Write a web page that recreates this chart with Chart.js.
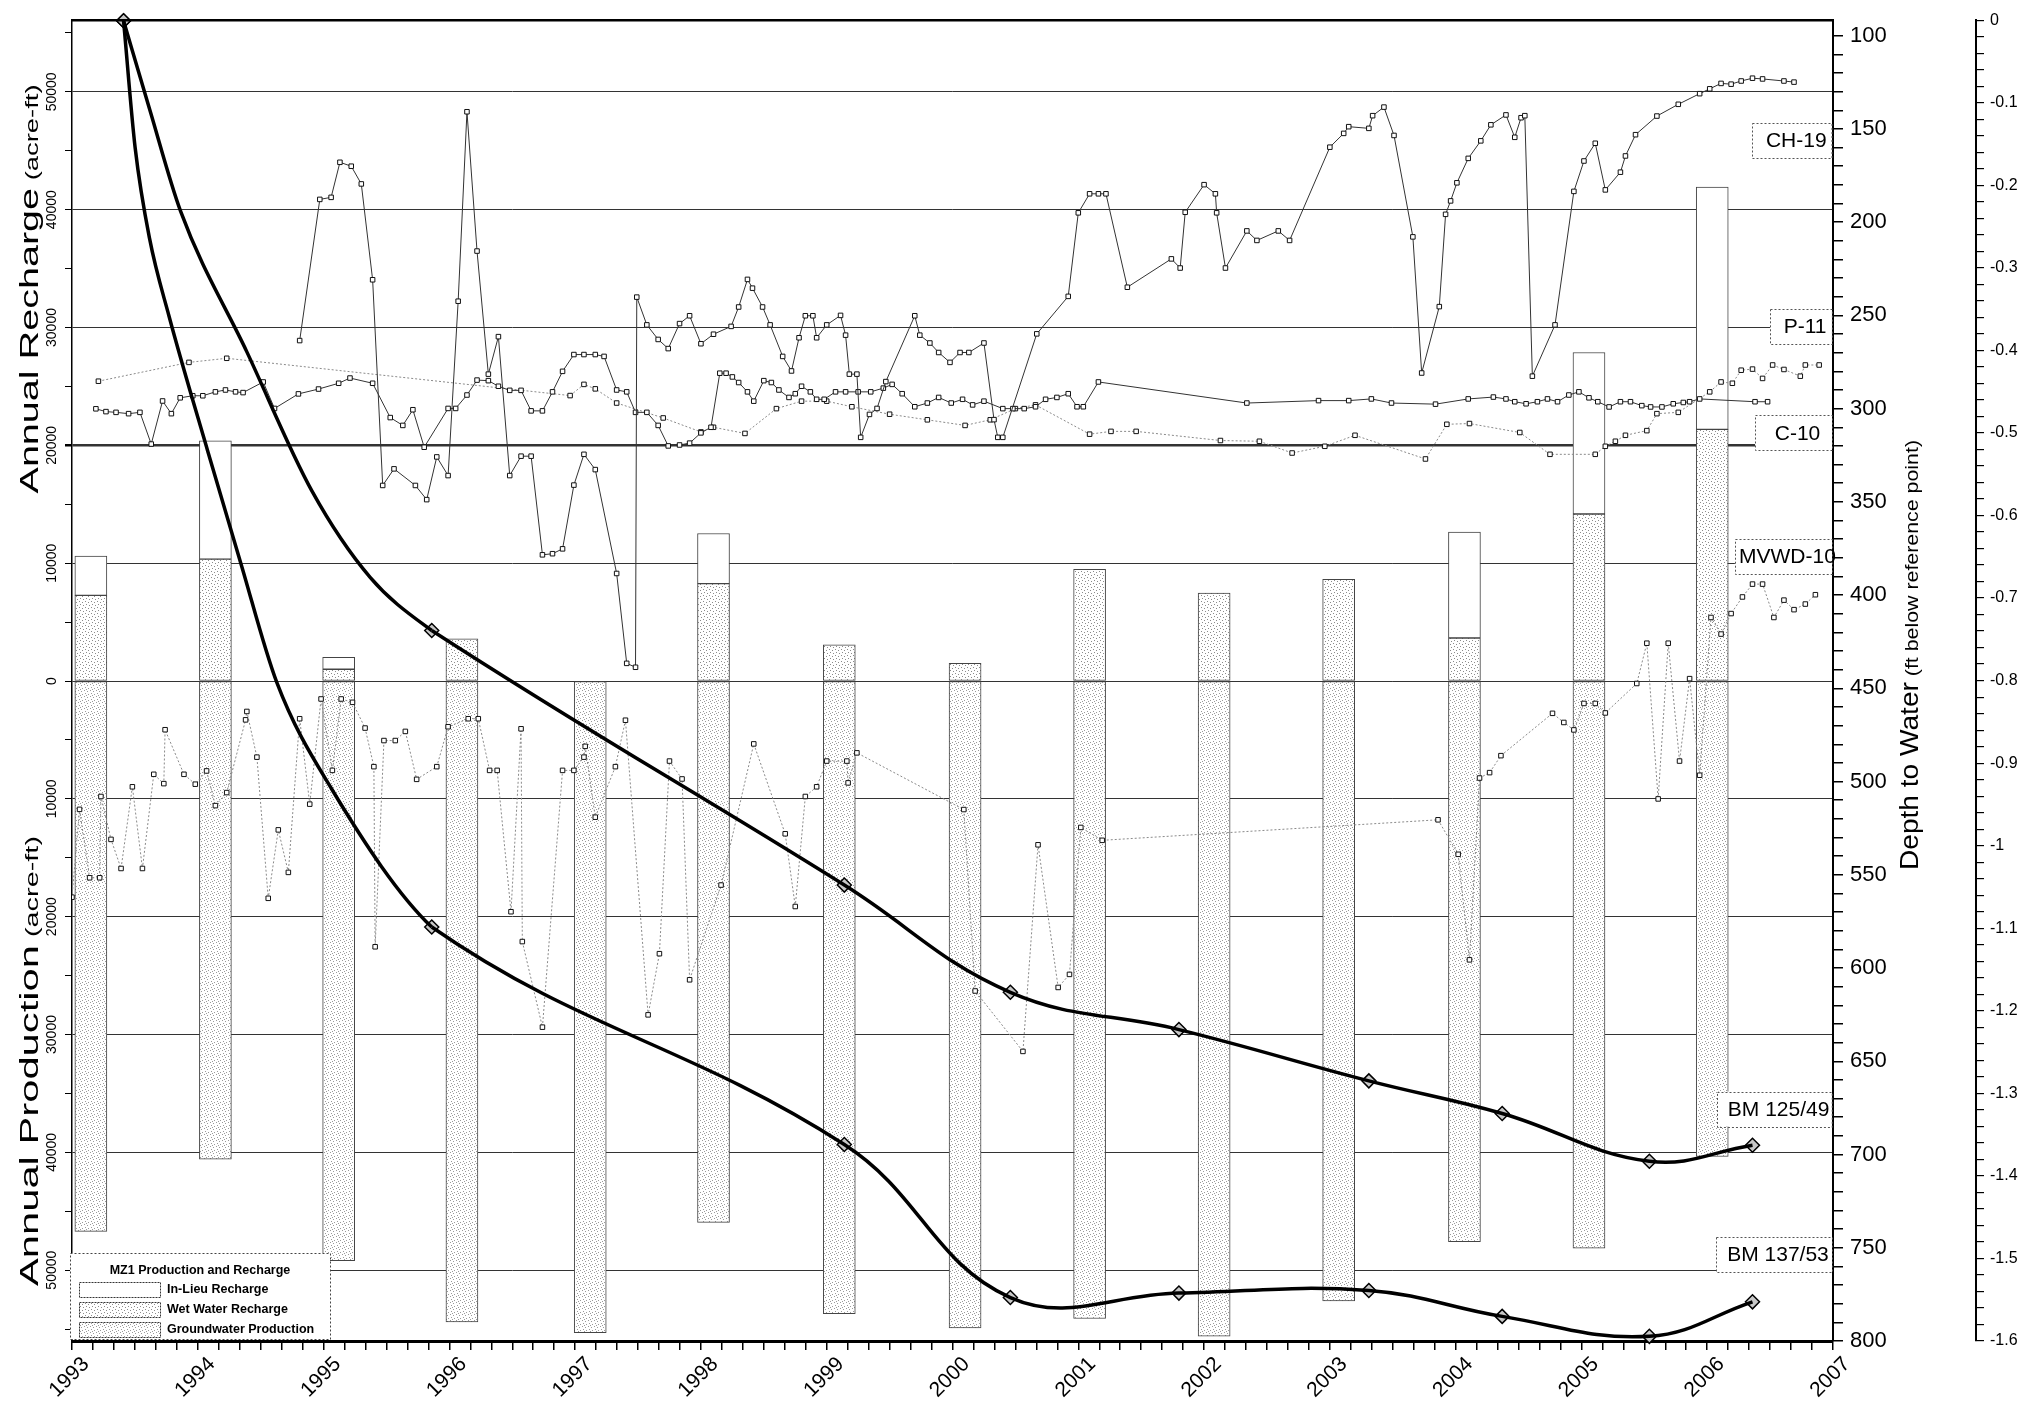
<!DOCTYPE html>
<html>
<head>
<meta charset="utf-8">
<title>MZ1 Production, Recharge and Depth to Water</title>
<script src="https://cdn.jsdelivr.net/npm/chart.js@4.4.1/dist/chart.umd.min.js"></script>
<style>
html,body{margin:0;padding:0;background:#fff;}
</style>
</head>
<body>
<canvas id="chart" width="2038" height="1412"></canvas>
<script>

// annual bars (acre-ft), centred a little after the start of each year
let barYears=[1993.15,1994.14,1995.12,1996.10,1997.12,1998.10,1999.10,2000.10,2001.09,2002.08,2003.07,2004.07,2005.06,2006.04];
let wetWater=[7270,10350,1000,3590,0,8270,3080,1500,9470,7460,8630,3650,14170,21360];
let inLieu=[3340,10030,1000,0,0,4250,0,0,0,0,0,8990,13710,20550];
let production=[46700,40570,49200,54400,55300,45940,53700,54900,54100,55600,52600,47590,48140,40350];

// depth to water, ft below reference point  [decimal year, depth]
let ch19=[[1994.81,263.5],[1994.97,187.8],[1995.06,186.7],[1995.13,167.9],[1995.22,170.0],[1995.30,179.5],[1995.39,230.9],[1995.47,341.2],[1995.56,332.3],[1995.73,341.2],[1995.82,348.8],[1995.90,325.9],[1995.99,335.9],[1996.07,242.4],[1996.14,140.8],[1996.22,215.5],[1996.31,281.5],[1996.39,261.4],[1996.48,335.9],[1996.57,325.5],[1996.65,325.5],[1996.74,378.4],[1996.82,377.8],[1996.90,375.2],[1996.99,341.0],[1997.07,324.5],[1997.16,332.7],[1997.33,388.4],[1997.41,436.6],[1997.48,438.7],[1997.49,240.2],[1997.57,255.1],[1997.66,262.9],[1997.74,267.8],[1997.83,254.4],[1997.91,250.2],[1998.00,265.2],[1998.10,260.1],[1998.24,255.9],[1998.30,245.5],[1998.37,230.7],[1998.41,235.4],[1998.49,245.5],[1998.55,255.1],[1998.65,272.0],[1998.72,279.8],[1998.78,262.0],[1998.83,250.2],[1998.89,250.2],[1998.92,262.0],[1999.00,255.1],[1999.11,250.0],[1999.15,260.6],[1999.18,281.5],[1999.24,281.5],[1999.27,315.4],[1999.34,303.1],[1999.40,299.9],[1999.47,285.5],[1999.70,250.2],[1999.74,260.6],[1999.82,264.8],[1999.89,269.9],[1999.98,275.2],[2000.06,269.9],[2000.13,269.9],[2000.25,264.8],[2000.33,305.9],[2000.36,315.4],[2000.40,315.4],[2000.67,259.9],[2000.92,239.8],[2001.00,195.0],[2001.09,184.8],[2001.16,184.8],[2001.22,184.8],[2001.39,234.9],[2001.74,219.7],[2001.81,224.6],[2001.85,194.7],[2002.00,179.9],[2002.09,184.8],[2002.10,195.0],[2002.17,224.6],[2002.34,204.7],[2002.42,209.8],[2002.59,204.7],[2002.68,209.8],[2003.00,159.8],[2003.11,152.4],[2003.15,148.8],[2003.31,149.7],[2003.34,142.9],[2003.43,138.3],[2003.51,153.5],[2003.66,207.9],[2003.73,280.9],[2003.87,245.3],[2003.92,195.8],[2003.96,188.6],[2004.01,178.9],[2004.10,165.8],[2004.20,156.4],[2004.28,147.8],[2004.40,142.5],[2004.47,154.5],[2004.52,144.0],[2004.55,142.9],[2004.61,282.6],[2004.79,255.1],[2004.94,183.5],[2005.02,167.2],[2005.11,157.7],[2005.19,182.7],[2005.31,173.2],[2005.35,164.5],[2005.43,153.1],[2005.60,143.1],[2005.77,136.8],[2005.94,131.1],[2006.02,128.5],[2006.11,125.6],[2006.19,126.0],[2006.27,124.3],[2006.36,122.8],[2006.44,123.2],[2006.61,124.3],[2006.69,124.9]];

let p11=[[1993.21,285.3],[1993.93,275.2],[1994.23,273.0],[1996.96,293.0],[1997.07,287.0],[1997.16,289.4],[1997.33,297.0],[1997.70,305.0],[1998.00,312.5],[1998.10,310.0],[1998.35,313.3],[1998.60,300.0],[1998.80,296.0],[1999.00,296.0],[1999.20,299.0],[1999.50,303.0],[1999.80,306.0],[2000.10,309.0],[2000.30,306.0],[2000.50,300.0],[2000.66,298.0],[2001.09,313.7],[2001.26,312.2],[2001.46,312.2],[2002.13,317.1],[2002.44,317.5],[2002.70,323.8],[2002.96,320.2],[2003.20,314.3],[2003.76,327.0],[2003.93,308.4],[2004.11,308.0],[2004.51,312.8],[2004.75,324.5],[2005.11,324.5],[2005.19,320.2],[2005.27,317.5],[2005.35,314.3],[2005.52,311.8],[2005.60,302.7],[2005.77,302.0],[2006.02,291.0],[2006.11,285.7],[2006.20,286.4],[2006.27,279.4],[2006.36,278.8],[2006.44,283.8],[2006.52,276.6],[2006.61,279.0],[2006.74,282.6],[2006.78,276.6],[2006.89,276.6]];

let c10=[[1993.19,300.1],[1993.27,301.6],[1993.35,302.0],[1993.45,302.7],[1993.54,302.0],[1993.63,319.0],[1993.72,295.9],[1993.79,302.7],[1993.86,294.2],[1993.96,293.1],[1994.04,293.1],[1994.14,291.0],[1994.22,290.0],[1994.30,291.0],[1994.36,291.4],[1994.52,285.7],[1994.61,299.9],[1994.80,292.1],[1994.96,289.5],[1995.12,286.4],[1995.21,283.6],[1995.39,286.4],[1995.53,304.8],[1995.63,309.0],[1995.71,300.6],[1995.80,320.7],[1995.99,299.9],[1996.05,299.9],[1996.14,292.7],[1996.22,284.7],[1996.31,285.0],[1996.39,288.0],[1996.48,290.2],[1996.57,290.2],[1996.65,301.2],[1996.74,301.2],[1996.82,291.0],[1996.90,280.0],[1996.99,271.0],[1997.07,271.0],[1997.16,271.0],[1997.23,272.0],[1997.33,290.0],[1997.41,291.0],[1997.48,302.0],[1997.57,302.0],[1997.66,309.0],[1997.74,320.0],[1997.83,319.5],[1997.91,318.5],[1998.00,313.0],[1998.08,310.0],[1998.15,281.0],[1998.20,281.0],[1998.25,283.0],[1998.30,286.0],[1998.37,291.0],[1998.42,296.0],[1998.50,285.0],[1998.56,286.0],[1998.62,290.0],[1998.70,294.0],[1998.75,292.0],[1998.80,288.0],[1998.87,291.0],[1998.92,295.0],[1998.98,295.0],[1999.07,291.0],[1999.15,291.0],[1999.25,291.0],[1999.35,291.0],[1999.45,289.0],[1999.52,287.0],[1999.60,292.0],[1999.70,299.0],[1999.80,297.0],[1999.89,294.0],[1999.99,297.0],[2000.08,295.0],[2000.16,298.0],[2000.25,296.0],[2000.40,300.0],[2000.48,300.0],[2000.57,300.0],[2000.66,299.0],[2000.74,295.0],[2000.83,294.0],[2000.92,292.0],[2000.99,299.0],[2001.04,299.0],[2001.16,285.7],[2002.34,297.0],[2002.91,295.7],[2003.15,295.7],[2003.33,294.8],[2003.49,297.0],[2003.84,297.6],[2004.10,294.8],[2004.30,293.8],[2004.40,294.8],[2004.47,296.3],[2004.56,297.4],[2004.65,296.3],[2004.73,294.8],[2004.81,296.3],[2004.90,292.7],[2004.98,291.0],[2005.06,294.2],[2005.13,296.3],[2005.22,299.1],[2005.31,296.3],[2005.39,296.3],[2005.48,298.4],[2005.55,299.1],[2005.64,299.1],[2005.73,297.4],[2005.81,296.7],[2005.86,296.3],[2005.94,294.8],[2006.38,296.3],[2006.48,296.3]];

let mvwd10=[[1993.00,562.0],[1993.06,514.9],[1993.14,551.6],[1993.22,551.6],[1993.23,508.0],[1993.31,531.0],[1993.39,546.6],[1993.48,502.8],[1993.56,546.6],[1993.65,496.1],[1993.73,501.1],[1993.74,472.2],[1993.89,496.1],[1993.98,501.4],[1994.07,494.3],[1994.14,512.9],[1994.23,505.9],[1994.38,466.9],[1994.39,462.4],[1994.47,486.9],[1994.56,562.6],[1994.64,525.9],[1994.72,548.7],[1994.81,466.3],[1994.89,512.1],[1994.98,455.7],[1995.07,494.0],[1995.14,455.7],[1995.23,457.5],[1995.33,471.3],[1995.40,492.0],[1995.41,588.6],[1995.48,478.0],[1995.57,478.0],[1995.65,473.1],[1995.74,498.8],[1995.90,492.0],[1995.99,470.6],[1996.15,466.3],[1996.23,466.3],[1996.32,494.0],[1996.38,494.0],[1996.49,569.8],[1996.57,471.7],[1996.58,585.8],[1996.74,631.7],[1996.90,494.0],[1996.99,494.0],[1997.07,486.9],[1997.08,481.1],[1997.16,519.1],[1997.32,492.0],[1997.40,467.1],[1997.58,625.1],[1997.67,592.3],[1997.75,489.0],[1997.85,498.6],[1997.91,606.3],[1998.16,555.5],[1998.42,479.8],[1998.67,528.0],[1998.75,567.0],[1998.83,508.0],[1998.92,502.8],[1999.00,489.0],[1999.16,489.0],[1999.17,500.7],[1999.24,484.6],[2000.09,515.0],[2000.18,612.3],[2000.56,644.7],[2000.68,533.9],[2000.84,610.4],[2000.93,603.4],[2001.02,524.6],[2001.19,531.5],[2003.86,520.5],[2004.02,539.0],[2004.11,595.6],[2004.19,498.1],[2004.27,495.2],[2004.36,486.1],[2004.77,463.4],[2004.86,468.3],[2004.94,472.3],[2005.02,458.1],[2005.11,458.1],[2005.19,463.2],[2005.44,447.4],[2005.52,425.8],[2005.61,509.3],[2005.69,425.8],[2005.78,489.0],[2005.86,444.8],[2005.94,496.6],[2006.03,412.0],[2006.11,420.9],[2006.19,409.9],[2006.28,401.0],[2006.36,394.1],[2006.44,394.1],[2006.53,412.0],[2006.61,402.7],[2006.69,407.8],[2006.78,404.8],[2006.86,399.8]];

// BM wells: marked (diamond) readings, plus unmarked points in its steep first stretch
let bm125=[[1993.41,92],[1995.86,419],[1999.14,555.5],[2000.46,613],[2001.80,633],[2003.31,660.5],[2004.37,678],[2005.54,703.6],[2006.36,695]];
let bm125Early=[[1993.616,139.2],[1993.863,194.1],[1994.391,269.7],[1994.907,344.1],[1995.372,390.6]];
let bm137=[[1993.41,92],[1995.86,578],[1999.14,694.6],[2000.46,776.7],[2001.80,774.3],[2003.31,772.9],[2004.37,786.8],[2005.54,797.5],[2006.36,779]];
let bm137Early=[[1993.502,160.1],[1993.616,208.6],[1993.771,250.3],[1994.081,323.2],[1994.339,382.2],[1994.628,446.8],[1995.062,503.7]];

let wellNames=["CH-19","P-11","C-10","MVWD-10","BM 125/49","BM 137/53"];
let legendNames=["In-Lieu Recharge","Wet Water Recharge","Groundwater Production"];

let FONT="'Liberation Sans', Arial, sans-serif";
let NARROW="'Liberation Sans Narrow', 'Liberation Sans', Arial, sans-serif";

let canvas=document.getElementById("chart");
let ctx=canvas.getContext("2d");

function stipple(dots,color){
let t=document.createElement("canvas");
t.width=6;t.height=6;
let g=t.getContext("2d");
g.fillStyle="#fff";g.fillRect(0,0,6,6);
g.fillStyle=color;
dots.forEach(d=>g.fillRect(d[0],d[1],1,1));
return ctx.createPattern(t,"repeat");
}
let wetFill=stipple([[1,1],[4,2],[2,4],[5,5]],"#8c8c8c");
let prodFill=stipple([[0,0],[3,1],[1,3],[4,4],[2,5]],"#9a9a9a");

function pts(a){ return a.map(p=>({x:p[0],y:p[1]})); }

function barSet(label,lo,hi,fill){
return {
type:"bar",label:label,yAxisID:"yL",order:3,
data:barYears.map((x,i)=>({x:x,y:(hi[i]-lo[i])>0?[lo[i],hi[i]]:null})),
backgroundColor:fill,borderColor:"#444",borderWidth:1,borderSkipped:false,
barThickness:32,grouped:false
};
}

let zeros=barYears.map(()=>0);
let prodNeg=production.map(v=>-v);
let rechargeTop=wetWater.map((v,i)=>v+inLieu[i]);

function wellSet(label,data,color,dash){
return {
type:"line",label:label,yAxisID:"yD",order:1,data:pts(data),
borderColor:color,borderWidth:1,borderDash:dash,tension:0,
pointStyle:"rect",pointRadius:3.2,pointBackgroundColor:"#fff",
pointBorderColor:"#111",pointBorderWidth:1
};
}
// steep first stretch as a monotone curve, the rest as a looser spline;
// each piece carries one extra neighbour (hidden segment) so they meet smoothly
let HIDE="rgba(0,0,0,0)";
function bmCurves(label,marks,early){
let head=[marks[0]].concat(early,[marks[1],marks[2]]);
let tail=[early[early.length-1]].concat(marks.slice(1));
let base={type:"line",label:label,yAxisID:"yD",order:0,borderColor:"#000",borderWidth:3.5,clip:false,pointRadius:0};
return [
Object.assign({},base,{data:pts(head),cubicInterpolationMode:"monotone",
segment:{borderColor:c=>c.p1DataIndex===head.length-1?HIDE:undefined}}),
Object.assign({},base,{data:pts(tail),tension:0.4,
segment:{borderColor:c=>c.p0DataIndex===0?HIDE:undefined}})
];
}
function bmMarks(label,marks){
return {
type:"line",label:label,yAxisID:"yD",order:0,data:pts(marks),showLine:false,clip:false,
pointStyle:"rectRot",pointRadius:7,pointBackgroundColor:"#c8c8c8",
pointBorderColor:"#000",pointBorderWidth:1.5
};
}

function vertText(c,x,yc,len,parts){
c.save();
c.translate(x,yc);
c.rotate(-Math.PI/2);
let total=0;
parts.forEach(p=>{c.font=p[1];p.w=c.measureText(p[0]).width;total+=p.w;});
let s=len?len/total:1;
c.scale(s,1);
let cx=-total/2;
c.fillStyle="#000";c.textAlign="left";c.textBaseline="alphabetic";
parts.forEach(p=>{c.font=p[1];c.fillText(p[0],cx,0);cx+=p.w;});
c.restore();
}

// well labels: left edge (year) and box centre (depth)
let wellBoxes=[[2006.36,156.0],[2006.50,255.8],[2006.38,313.0],[2006.22,379.3],[2006.08,675.6],[2006.07,753.4]];

let decor={
id:"decor",
afterDatasetsDraw(chart){
let c=chart.ctx,a=chart.chartArea,xs=chart.scales.x,yd=chart.scales.yD;
c.save();
// well name boxes
c.font="21px "+FONT;
wellNames.forEach((n,i)=>{
let x0=xs.getPixelForValue(wellBoxes[i][0]),yc=yd.getPixelForValue(wellBoxes[i][1]);
let x1=a.right-1,h=35;
c.fillStyle="#fff";c.fillRect(x0,yc-h/2,x1-x0,h);
c.setLineDash([2,2]);c.strokeStyle="#555";c.lineWidth=1;
c.strokeRect(Math.round(x0)+0.5,Math.round(yc-h/2)+0.5,x1-x0,h);
c.setLineDash([]);
c.fillStyle="#000";c.textAlign="center";c.textBaseline="middle";
c.fillText(n,(x0+x1)/2+4,yc+1);
});
// legend
let L=70,T=1253,R=330,B=1339;
c.fillStyle="#fff";c.fillRect(L,T,R-L,B-T);
c.setLineDash([2,2]);c.strokeStyle="#444";c.strokeRect(L+0.5,T+0.5,R-L,B-T);
c.setLineDash([]);
c.fillStyle="#000";c.textAlign="center";c.textBaseline="middle";
c.font="bold 12.5px "+FONT;
c.fillText("MZ1 Production and Recharge",(L+R)/2,1271);
let fills=["#fff",wetFill,prodFill];
legendNames.forEach((n,i)=>{
let y=1289+i*20;
c.fillStyle=fills[i];c.fillRect(79,y-7,81,15);
c.setLineDash([2,1]);c.strokeStyle="#333";c.strokeRect(79.5,y-6.5,81,15);
c.setLineDash([]);
c.fillStyle="#000";c.textAlign="left";c.font="bold 12.5px "+FONT;
c.fillText(n,167,y+1);
});
c.restore();
},
afterDraw(chart){
let c=chart.ctx,a=chart.chartArea,yl=chart.scales.yL;
c.save();
// top frame line
c.strokeStyle="#000";c.lineWidth=2.5;
c.beginPath();c.moveTo(a.left,a.top);c.lineTo(a.right,a.top);c.stroke();
// left tick labels, rotated
c.fillStyle="#000";c.font="14px "+NARROW;c.textAlign="center";c.textBaseline="middle";
yl.ticks.forEach(t=>{
if(t.value%10000!==0) return;
let y=yl.getPixelForValue(t.value);
c.save();c.translate(52,y);c.rotate(-Math.PI/2);
c.fillText(String(Math.abs(t.value)),0,0);
c.restore();
});
c.restore();
vertText(c,38,289,409,[["Annual Recharge","26px "+FONT],[" (acre-ft)","18px "+FONT]]);
vertText(c,38,1061,450,[["Annual Production","26px "+FONT],[" (acre-ft)","18px "+FONT]]);
vertText(c,1918,655,430,[["Depth to Water","25px "+FONT],[" (ft below reference point)","19px "+FONT]]);
}
};

new Chart(canvas,{
type:"bar",
data:{
datasets:[
...bmCurves("BM 125/49",bm125,bm125Early),
...bmCurves("BM 137/53",bm137,bm137Early),
bmMarks("BM 125/49",bm125),
bmMarks("BM 137/53",bm137),
wellSet("CH-19",ch19,"#333",[]),
wellSet("C-10",c10,"#333",[]),
wellSet("P-11",p11,"#8a8a8a",[2,2]),
wellSet("MVWD-10",mvwd10,"#8a8a8a",[2,2]),
barSet(legendNames[2],prodNeg,zeros,prodFill),
barSet(legendNames[1],zeros,wetWater,wetFill),
barSet(legendNames[0],wetWater,rechargeTop,"#fff")
]
},
options:{
responsive:false,animation:false,devicePixelRatio:1,
layout:{padding:{top:15,left:0,right:0,bottom:0}},
plugins:{legend:{display:false},tooltip:{enabled:false}},
scales:{
x:{
type:"linear",position:"bottom",min:1993,max:2007,offset:false,
afterBuildTicks:s=>{let t=[];for(let i=0;i<=84;i++)t.push({value:1993+i/6});s.ticks=t;},
afterFit:s=>{s.height=71;},
grid:{drawOnChartArea:false,offset:false,tickLength:9,tickColor:"#000",lineWidth:1.5},
border:{color:"#000",width:3},
ticks:{autoSkip:false,minRotation:45,maxRotation:45,padding:2,labelOffset:14,color:"#000",
font:{family:FONT,size:21},
callback:v=>Math.abs(v-Math.round(v))<1e-6?String(Math.round(v)):""}
},
yL:{
position:"left",min:-56010,max:56080,
afterBuildTicks:s=>{let t=[];for(let v=-55000;v<=55000;v+=5000)t.push({value:v});s.ticks=t;},
afterFit:s=>{s.width=72;},
grid:{
color:c=>c.tick&&c.tick.value%10000===0?"#333":"rgba(0,0,0,0)",
lineWidth:c=>c.tick&&c.tick.value===20000?2.5:1,
tickColor:"#000",tickLength:7,drawTicks:true
},
border:{color:"#000",width:1.5},
ticks:{display:false}
},
yD:{
position:"right",reverse:true,min:91.7,max:800,weight:0,
afterBuildTicks:s=>{let t=[];for(let v=100;v<=800;v+=10)t.push({value:v});s.ticks=t;},
afterFit:s=>{s.width=143;},
grid:{drawOnChartArea:false,tickLength:10,tickColor:"#000",lineWidth:1.5},
border:{color:"#000",width:2},
ticks:{autoSkip:false,padding:7,color:"#000",font:{family:FONT,size:22},
callback:v=>v%50===0?String(v):""}
},
yP:{
position:"right",min:-1.6,max:0,weight:1,
afterBuildTicks:s=>{let t=[];for(let i=0;i<=80;i++)t.push({value:-i/50});s.ticks=t;},
afterFit:s=>{s.width=62;},
grid:{drawOnChartArea:false,tickLength:8,tickColor:"#000",lineWidth:1.2},
border:{color:"#000",width:2},
ticks:{autoSkip:false,padding:6,color:"#000",font:{family:NARROW,size:16},
callback:(v,i)=>i%5===0?(i===0?"0":String(-i/50)):""}
}
}
},
plugins:[decor]
});

</script>
</body>
</html>
